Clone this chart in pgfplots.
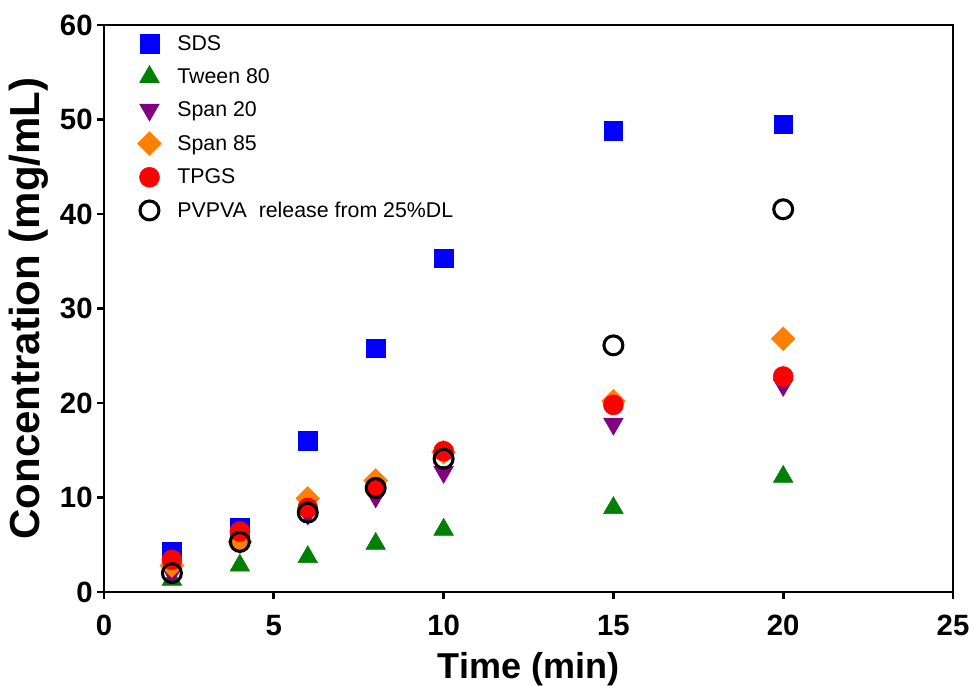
\documentclass[border=0pt]{standalone}
\usepackage{fontspec}
\setmainfont{Liberation Sans}
\newfontfamily\labelfont{Liberation Sans Bold}
\usepackage{pgfplots}
\pgfplotsset{compat=1.18}
\definecolor{sds}{RGB}{0,0,255}
\definecolor{tween}{RGB}{0,128,0}
\definecolor{spantw}{RGB}{128,0,128}
\definecolor{spanef}{RGB}{255,128,0}
\definecolor{tpgs}{RGB}{255,0,0}
\begin{document}
\begin{tikzpicture}
\useasboundingbox (-78pt,-69.75pt) rectangle (651.75pt,444pt);
\begin{axis}[
  width=636.75pt,height=425.25pt,scale only axis,
  xmin=0,xmax=25,ymin=0,ymax=60,
  xtick={0,5,10,15,20,25},ytick={0,10,20,30,40,50,60},
  tick align=outside,xtick pos=bottom,ytick pos=left,
  major tick length=5pt,
  axis line style={line width=2.2pt},
  every tick/.style={black,line width=2pt},
  tick label style={font=\fontsize{22}{26}\selectfont\labelfont},
  yticklabel style={xshift=0pt},
  xticklabel style={yshift=-9pt},
  xlabel={\fontsize{27}{30}\selectfont\labelfont Time (min)},
  ylabel={\fontsize{31.5}{34}\selectfont\labelfont Concentration (mg/mL)},
  xlabel style={at={(rel axis cs:0.5,0)},anchor=base,yshift=-64.5pt},
  ylabel style={at={(rel axis cs:0,0.5)},anchor=center,yshift=56.6pt},
  /pgf/number format/assume math mode=true,
  legend style={draw=none,fill=none,at={(axis description cs:0,1)},anchor=north west,
    xshift=25pt,yshift=-5.5pt,inner sep=0pt,
    font=\fontsize{16}{18}\selectfont,row sep=8pt,
    /tikz/every odd column/.append style={column sep=10pt},
    cells={anchor=west}},
  legend image code/.code={\draw[#1] plot coordinates {(0.3cm,0cm)};},
  only marks,
]
\addplot[mark=square*,mark size=7pt,color=sds] coordinates {
 (2,4.3) (4,6.8) (6,16.0) (8,25.8) (10,35.3) (15,48.8) (20,49.5)};
\addlegendentry{SDS}
\addplot[mark=triangle*,mark size=8.5pt,color=tween] coordinates {
 (2,1.3) (4,2.8) (6,3.7) (8,5.1) (10,6.6) (15,8.9) (20,12.2)};
\addlegendentry{Tween 80}
\addplot[mark=triangle*,mark size=8.5pt,color=spantw,mark options={rotate=180}] coordinates {
 (2,2.0) (4,5.5) (6,8.3) (8,10.1) (10,12.7) (15,17.8) (20,21.9)};
\addlegendentry{Span 20}
\addplot[mark=square*,mark size=6.3pt,color=spanef,mark options={rotate=45}] coordinates {
 (2,2.8) (4,5.3) (6,9.9) (8,11.8) (10,14.8) (15,20.2) (20,26.8)};
\addlegendentry{Span 85}
\addplot[mark=*,mark size=7.5pt,color=tpgs] coordinates {
 (2,3.4) (4,6.4) (6,8.9) (8,11.1) (10,14.9) (15,19.8) (20,22.8)};
\addlegendentry{TPGS}
\addplot[mark=o,mark size=7.1pt,color=black,mark options={line width=2.3pt}] coordinates {
 (2,2.0) (4,5.3) (6,8.4) (8,11.0) (10,14.1) (15,26.1) (20,40.5)};
\addlegendentry{PVPVA\ \ release from 25\%DL}
\end{axis}
\end{tikzpicture}
\end{document}
